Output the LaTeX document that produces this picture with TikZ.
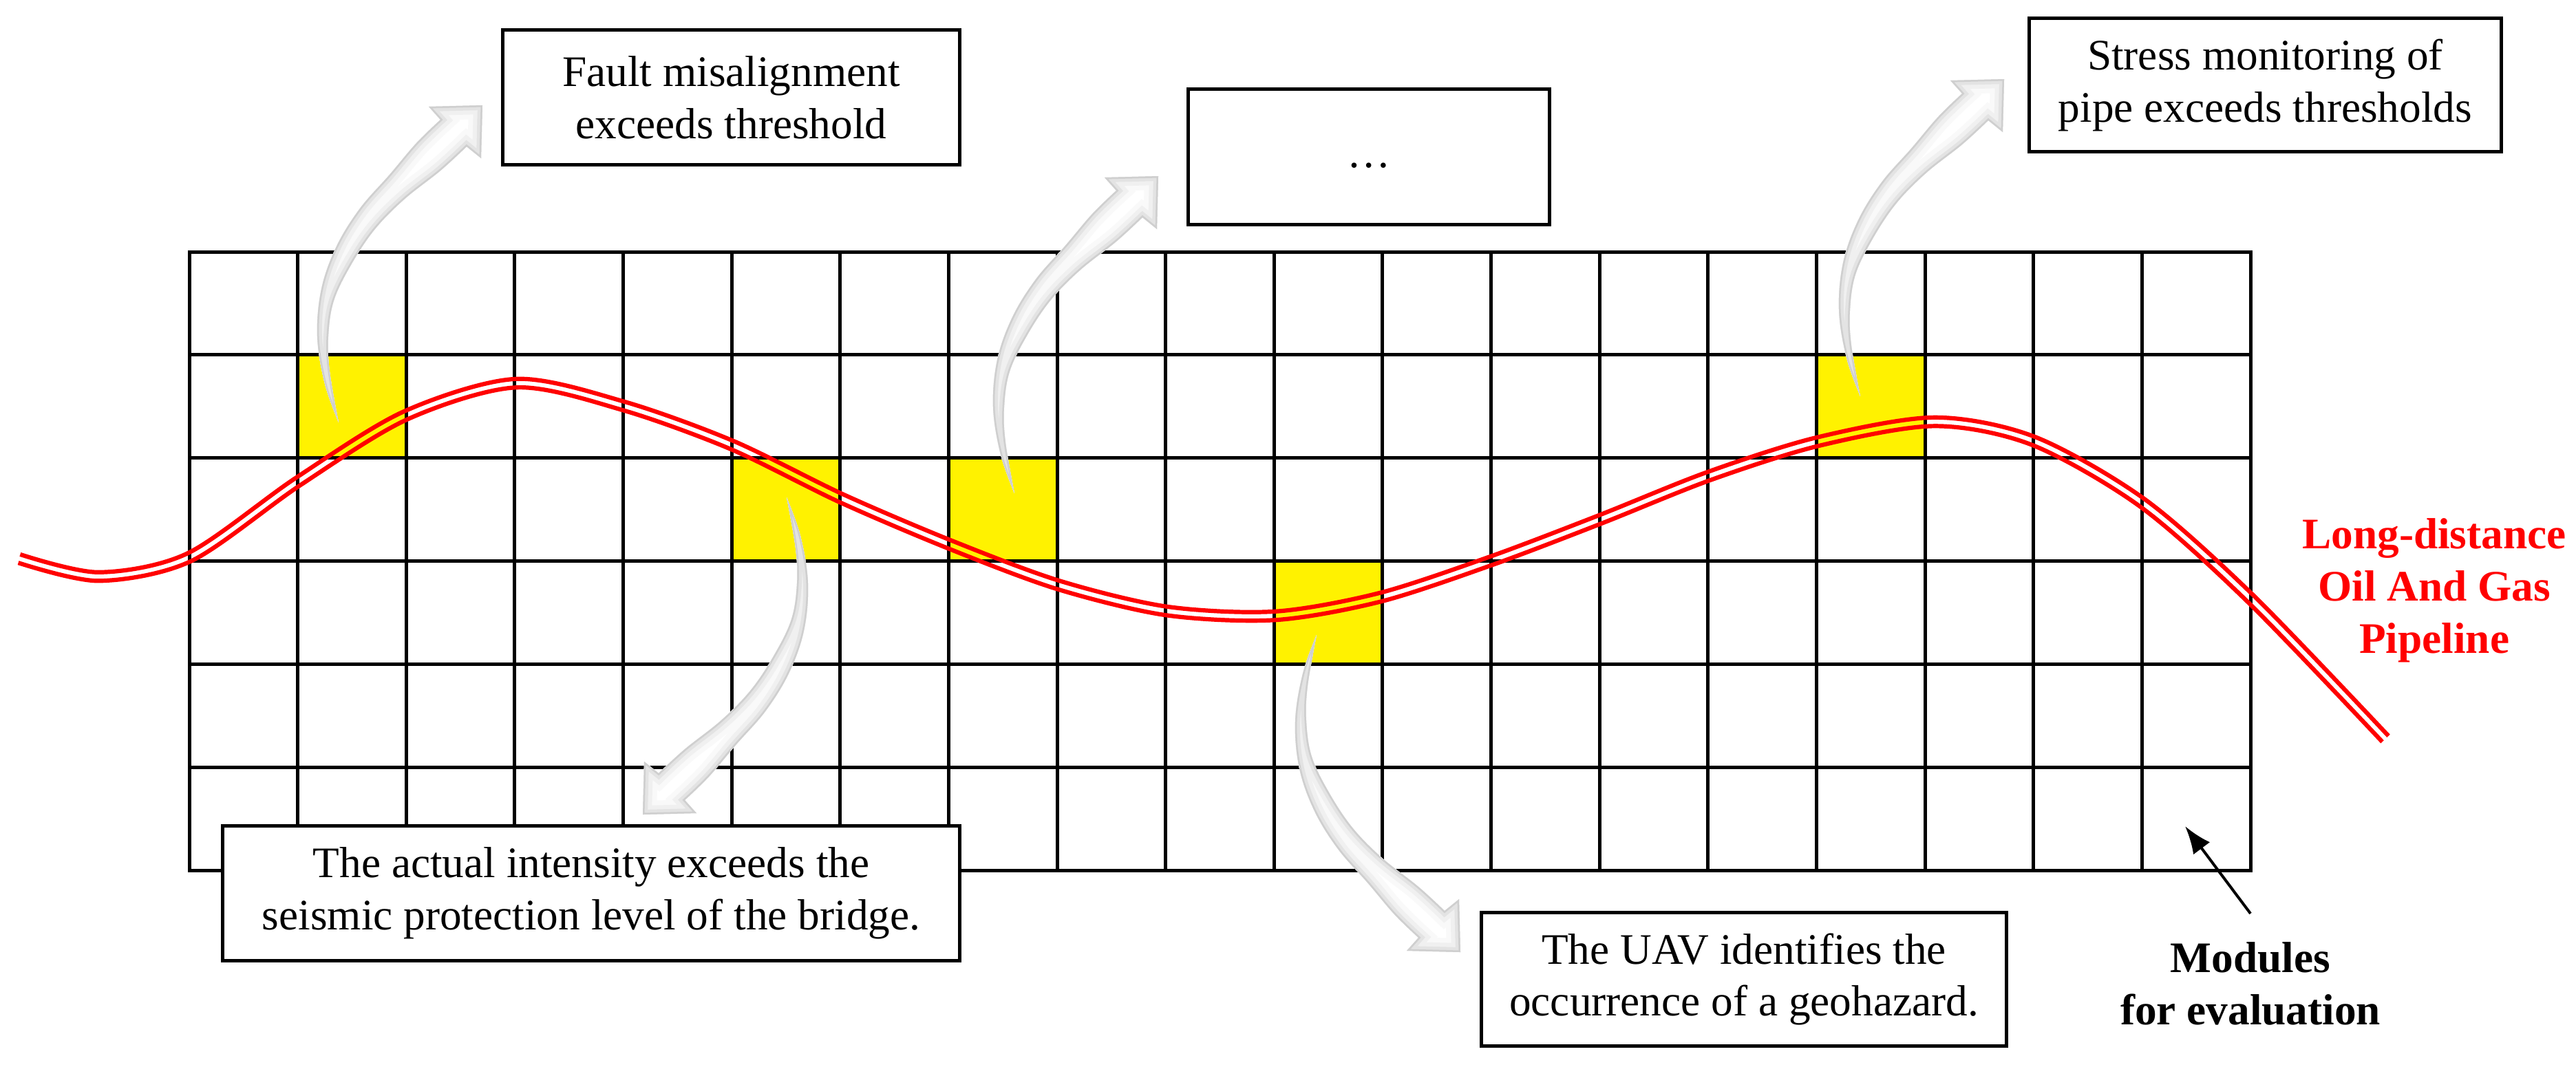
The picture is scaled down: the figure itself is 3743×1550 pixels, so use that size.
\documentclass[tikz,border=0pt]{standalone}
\usepackage{fontspec}
\setmainfont{Liberation Serif}
\usetikzlibrary{arrows.meta}
\newcommand{\myarrowpath}{plot[smooth, tension=0.6] coordinates {(0,0) (-20,-56) (-31,-125) (-25,-194) (-3,-256) (31,-311) (74,-360) (113,-406) (148,-440)} -- (131,-459) -- (209,-461) -- (207,-384) -- plot[smooth, tension=0.6] coordinates {(186,-401) (148,-366) (95,-324) (52,-280) (18,-229) (-7,-177) (-15,-125) (-13,-74) (0,0)} -- cycle}
\newcommand{\shadedarrow}[1]{%
  \begin{scope}[#1]
    \begin{scope}
      \clip \myarrowpath;
      \fill[white] \myarrowpath;
      \draw[line width=0.40cm, gray!5] \myarrowpath;
      \draw[line width=0.26cm, gray!12] \myarrowpath;
      \draw[line width=0.14cm, gray!22] \myarrowpath;
      \draw[line width=0.05cm, gray!38] \myarrowpath;
    \end{scope}
  \end{scope}}
\begin{document}
\begin{tikzpicture}[x=0.01cm,y=-0.01cm,
  gridline/.style={line width=0.05cm, draw=black},
  cellfill/.style={fill=yellow},
  infobox/.style={draw=black, line width=0.05cm, fill=white, align=center, inner sep=0pt, font=\fontsize{18}{21.6}\selectfont},
  pipeline/.style={draw=red, line width=0.062cm},
  redlabel/.style={text=red, align=center, inner sep=0pt, font=\fontsize{18}{21.6}\selectfont\bfseries},
  modlabel/.style={align=center, inner sep=0pt, font=\fontsize{18}{21.6}\selectfont\bfseries},
  modarrow/.style={line width=0.04cm, -{Latex[length=0.4cm,width=0.3cm]}}
]
\useasboundingbox[fill=white] (0,0) rectangle (3743,1550);
\def\cw{157.63}
\def\rh{149.83}
% highlighted modules
\foreach \cc/\rr in {1/1,5/2,7/2,10/3,15/1}
  \fill[cellfill] ({275+\cc*\cw},{366+\rr*\rh}) rectangle ++(\cw,\rh);
% grid
\foreach \i in {1,...,18}
  \draw[gridline] ({275+\i*\cw},366) -- ({275+\i*\cw},1265);
\foreach \j in {1,...,5}
  \draw[gridline] (275,{366+\j*\rh}) -- (3270,{366+\j*\rh});
\draw[gridline] (275,366) rectangle (3270,1265);
% pipeline (two parallel red lines)
\draw[pipeline] plot[smooth] coordinates {(29.4,805.9) (143,831.8) (272.3,804.4) (429.6,694.8) (586.4,598.3) (749.7,550.8) (907.7,584) (1066.4,641.3) (1224.6,718.3) (1381.3,785.2) (1538.8,844) (1695.9,881.8) (1852.6,888.8) (2004.5,861.9) (2164.9,809.1) (2322.7,749.2) (2480.9,686.1) (2639.5,635.9) (2811,606.8) (2957.3,635.2) (3116.7,725.9) (3274.4,865.5) (3470.5,1069.7)};
\draw[pipeline] plot[smooth] coordinates {(26.6,818.1) (143,844.3) (277.7,815.6) (436.4,705.2) (591.6,609.7) (750.3,563.2) (904.3,596) (1061.6,652.8) (1219.4,729.7) (1376.7,796.8) (1535.2,856) (1694.1,894.2) (1853.4,901.2) (2007.5,874.1) (2169.1,820.9) (2327.3,760.8) (2485.1,697.9) (2642.5,648.1) (2811,619.3) (2952.7,646.8) (3109.3,736.1) (3265.6,874.5) (3461.5,1078.3)};
% curved callout arrows
\shadedarrow{shift={(492,614)}}
\shadedarrow{shift={(1474,717)}}
\shadedarrow{shift={(2703,576)}}
\shadedarrow{shift={(1143,723)}, rotate=180}
\shadedarrow{shift={(1913,923)}, yscale=-1}
% boxes
\node[infobox, minimum width=6.63cm, minimum height=1.95cm] (fault) at (1062.5,141.5) {Fault misalignment\\exceeds threshold};
\node[infobox, minimum width=5.24cm, minimum height=1.96cm] (dots) at (1989,228) {\strut …};
\node[infobox, minimum width=6.85cm, minimum height=1.93cm] (stress) at (3291.5,123.5) {Stress monitoring of\\pipe exceeds thresholds};
\node[infobox, minimum width=10.70cm, minimum height=1.95cm] (seismic) at (859,1298.5) {The actual intensity exceeds the\\seismic protection level of the bridge.};
\node[infobox, minimum width=7.62cm, minimum height=1.93cm] (uav) at (2534,1423.5) {The UAV identifies the\\occurrence of a geohazard.};
% labels
\node[redlabel] (pipe) at (3537,858) {Long-distance\\Oil And Gas\\Pipeline};
\node[modlabel] (modules) at (3270,1430) {Modules\\for evaluation};
\coordinate (modtip) at (3175,1201);
\draw[modarrow] ([yshift=0.41cm]modules.north) -- (modtip);
\end{tikzpicture}
\end{document}
